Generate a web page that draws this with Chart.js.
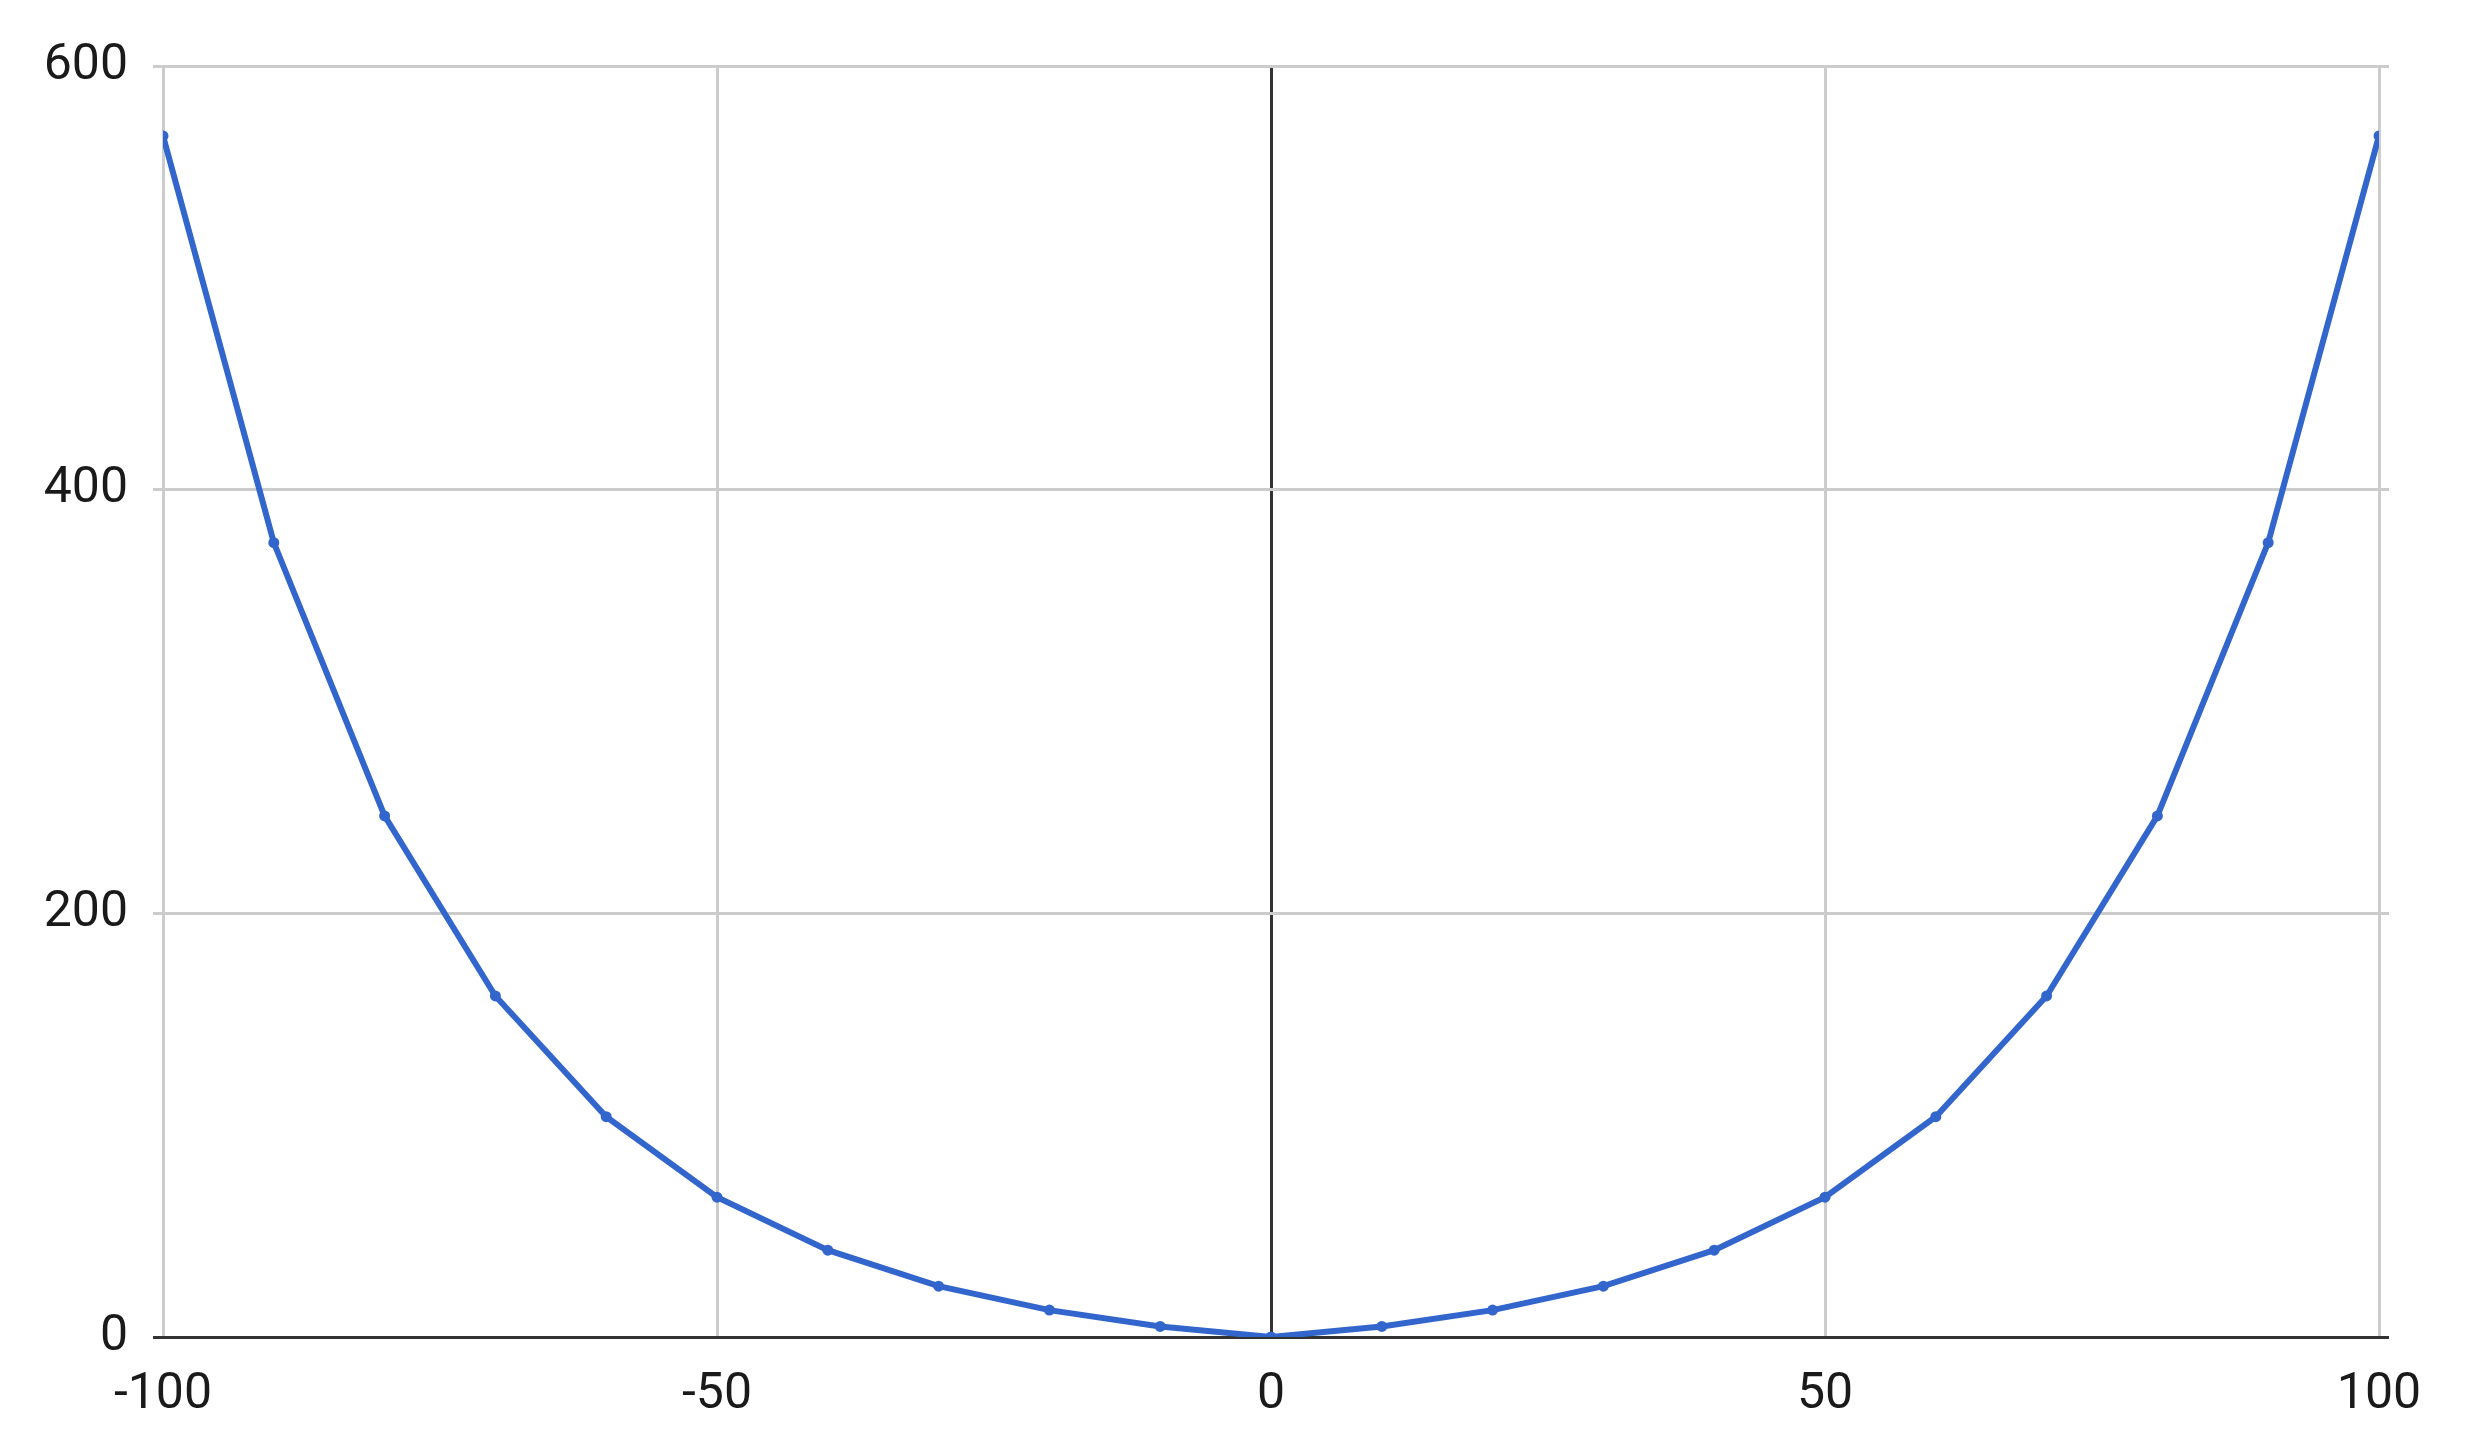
<!DOCTYPE html>
<html>
<head>
<meta charset="utf-8">
<script src="https://cdn.jsdelivr.net/npm/chart.js@4"></script>
<style>
  html, body { margin: 0; padding: 0; background: #fff; }
  #wrap { width: 2466px; height: 1450px; }
</style>
</head>
<body>
<div id="wrap"><canvas id="chart" width="2466" height="1450"></canvas></div>
<script>
const xValues = [-100, -90, -80, -70, -60, -50, -40, -30, -20, -10, 0, 10, 20, 30, 40, 50, 60, 70, 80, 90, 100];
const yValues = [567, 375, 246, 161, 104, 66, 41, 24, 12.7, 5, 0, 5, 12.7, 24, 41, 66, 104, 161, 246, 375, 567];
const xTicks = [-100, -50, 0, 50, 100];
const yTicks = [0, 200, 400, 600];

const points = xValues.map((x, i) => ({ x: x, y: yValues[i] }));
const zeroOrGrey = (ctx) => (ctx.tick && ctx.tick.value === 0 ? '#333333' : '#cccccc');

const ctx = document.getElementById('chart').getContext('2d');
new Chart(ctx, {
  type: 'line',
  data: {
    datasets: [{
      data: points,
      borderColor: '#3366cc',
      backgroundColor: '#3366cc',
      borderWidth: 6,
      pointRadius: 5.5,
      pointBorderWidth: 0,
      pointHoverRadius: 5.5,
      tension: 0,
      fill: false
    }]
  },
  options: {
    responsive: false,
    animation: false,
    layout: { padding: { top: 66, right: 77, left: 0, bottom: 0 } },
    plugins: { legend: { display: false }, tooltip: { enabled: false } },
    scales: {
      x: {
        type: 'linear',
        min: -100,
        max: 100,
        afterBuildTicks: (s) => { s.ticks = xTicks.map((v) => ({ value: v })); },
        afterFit: (s) => { s.height = 113; },
        border: { display: false },
        grid: { color: zeroOrGrey, lineWidth: 3, drawTicks: false },
        ticks: { padding: 28, color: '#1a1a1a', font: { family: 'Roboto', size: 50 } }
      },
      y: {
        min: 0,
        max: 600,
        afterBuildTicks: (s) => { s.ticks = yTicks.map((v) => ({ value: v })); },
        afterFit: (s) => { s.width = 163; },
        border: { display: false },
        grid: { color: zeroOrGrey, lineWidth: 3, drawTicks: true, tickLength: 10 },
        ticks: { padding: 25, color: '#1a1a1a', font: { family: 'Roboto', size: 50 } }
      },
      yRight: {
        position: 'right',
        min: 0,
        max: 600,
        afterBuildTicks: (s) => { s.ticks = yTicks.map((v) => ({ value: v })); },
        afterFit: (s) => { s.width = 10; },
        border: { display: false },
        grid: { color: zeroOrGrey, lineWidth: 3, drawOnChartArea: false, drawTicks: true, tickLength: 10 },
        ticks: { display: false }
      }
    }
  }
});
</script>
</body>
</html>
